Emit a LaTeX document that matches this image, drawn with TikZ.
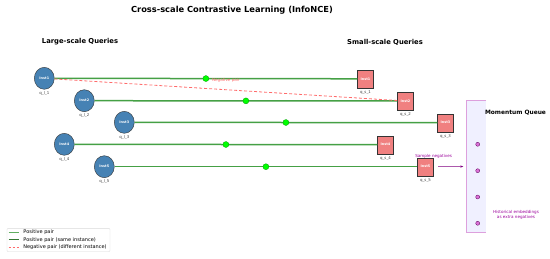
\documentclass[tikz,border=0pt]{standalone}
\usepackage{fontspec}
\setmainfont{DejaVu Sans}
\usepackage{tikz}
\usetikzlibrary{arrows.meta, positioning, shapes.geometric}
\definecolor{qblue}{HTML}{4682B4}
\definecolor{qcoral}{HTML}{F08080}
\definecolor{pairgreen}{HTML}{45A045}
\definecolor{negred}{HTML}{FF6B6B}
\definecolor{queuefill}{HTML}{F0F0FF}
\definecolor{queueedge}{HTML}{DDA0DD}
\definecolor{queuepurple}{HTML}{800080}
\definecolor{queuedot}{HTML}{DA70D6}
\tikzset{
  largeq/.style={ellipse, draw=black!80, fill=qblue, minimum width=20pt, minimum height=22pt, inner sep=0pt, text=white, font=\fontsize{3.4}{4}\selectfont\bfseries},
  smallq/.style={rectangle, draw=black!80, fill=qcoral, minimum width=16pt, minimum height=18pt, inner sep=0pt, text=white, font=\fontsize{3.4}{4}\selectfont\bfseries},
  qlabel/.style={font=\fontsize{3.9}{4}\selectfont, text=black!75, inner sep=0pt},
  pospair/.style={pairgreen, line width=1.5pt},
  posdot/.style={circle, fill=green, draw=green!60!black, line width=0.3pt, minimum size=6pt, inner sep=0pt},
  negpair/.style={negred, dashed, dash pattern=on 3pt off 2pt, line width=0.8pt},
  heading/.style={font=\fontsize{6.8}{7}\selectfont\bfseries},
  note/.style={font=\fontsize{4.1}{4.6}\selectfont, inner sep=0pt},
  legtext/.style={font=\fontsize{5}{5.5}\selectfont, inner sep=0pt, text=black, anchor=west}
}

\begin{document}
\begin{tikzpicture}[x=1pt, y=-1pt]
    \useasboundingbox (0,0) rectangle (550,258);
    \node[font=\fontsize{8.3}{9}\selectfont\bfseries] (title) at (232,10) {Cross-scale Contrastive Learning (InfoNCE)};
    \node[heading] (lhead) at (80,42) {Large-scale Queries};
    \node[heading] (shead) at (385,42) {Small-scale Queries};
    % momentum queue
    \node[fill=queuefill, minimum width=20pt, minimum height=132pt, inner sep=0pt] (queue) at (476,166.5) {};
    \draw[queueedge, line width=0.6pt] (queue.north east) -- (queue.north west) -- (queue.south west) -- (queue.south east);
    \foreach \y [count=\k] in {144.3, 170.7, 197, 223.3}
      \node[circle, fill=queuedot, draw=queuepurple!70!black, line width=0.3pt, minimum size=4pt, inner sep=0pt] (m\k) at (477.7,\y) {};
    \node[font=\fontsize{5.9}{6}\selectfont\bfseries] (qtitle) at (515.5,112.7) {Momentum Queue};
    \node[note, text=queuepurple!80!magenta, align=center] (qnote) at (516,215) {Historical embeddings\\as extra negatives};
    % queries
    \node[largeq] (l1) at (44.3,78.3) {Inst1};
    \node[largeq] (l2) at (84.3,100.7) {Inst2};
    \node[largeq] (l3) at (124.3,122.3) {Inst3};
    \node[largeq] (l4) at (64.3,144.3) {Inst4};
    \node[largeq] (l5) at (104.3,166.7) {Inst5};
    \node[smallq] (s1) at (365.5,78.8) {Inst1};
    \node[smallq] (s2) at (405.5,101) {Inst2};
    \node[smallq] (s3) at (445.5,122.7) {Inst3};
    \node[smallq] (s4) at (385.5,144.7) {Inst4};
    \node[smallq] (s5) at (425.5,166.7) {Inst5};
    \foreach \i in {1,...,5} {
      \node[qlabel, below=1.5pt of l\i] (ll\i) {q\_l\_\i};
      \node[qlabel, below=2.5pt of s\i] (sl\i) {q\_s\_\i};
      \draw[pospair] (l\i) -- node[posdot] (d\i) {} (s\i);
    }
    \draw[negpair] (l1) -- node[pos=0.5, yshift=9pt, note, text=negred] (neglabel) {Negative pair} (s2);
    \draw[-{Stealth[length=3pt]}, queuepurple, line width=0.6pt, shorten <=4.5pt, shorten >=2.5pt] (s5) -- (queue);
    \node[note, text=queuepurple!80!magenta] (samplelabel) at ([yshift=1.5pt]s5.north east) {Sample negatives};
    % legend
    \node[draw=black!15, fill=white, rounded corners=1pt, minimum width=103pt, minimum height=23.4pt, inner sep=0pt] (legend) at (58.5,240) {};
    \coordinate (k1) at (8.5,232.3);
    \coordinate (k2) at (8.5,239.7);
    \coordinate (k3) at (8.5,247);
    \draw[pairgreen!85!white, line width=0.9pt] (k1) -- ++(10.5,0) node[legtext, right=4pt] {Positive pair};
    \draw[pairgreen!75!black, line width=0.9pt] (k2) -- ++(10.5,0) node[legtext, right=4pt] {Positive pair (same instance)};
    \draw[negpair, dash pattern=on 2.5pt off 1.5pt] (k3) -- ++(10.5,0) node[legtext, right=4pt] {Negative pair (different instance)};
\end{tikzpicture}
\end{document}
